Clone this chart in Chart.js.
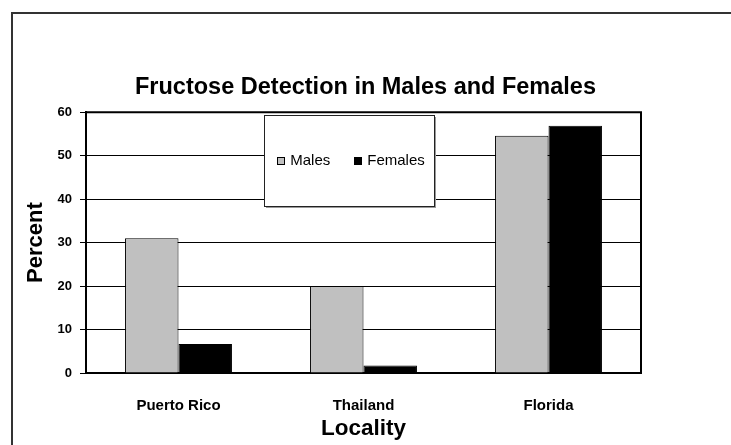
<!DOCTYPE html>
<html>
<head>
<meta charset="utf-8">
<script src="https://cdn.jsdelivr.net/npm/chart.js@4"></script>
<style>
  html, body { margin: 0; padding: 0; background: #fff; }
  #wrap { position: relative; width: 731px; height: 445px; }
</style>
</head>
<body>
<div id="wrap"><canvas id="chart"></canvas></div>
<script>
const categories = ["Puerto Rico", "Thailand", "Florida"];
const males = [31, 20, 54.6];
const females = [6.7, 1.7, 56.9];
const yTicks = [0, 10, 20, 30, 40, 50, 60];

const FONT = "'Liberation Sans', Arial, sans-serif";

// frame around the whole picture, border round the plot, and the boxed legend
const decorations = {
  id: "decorations",
  beforeDraw(chart) {
    const ctx = chart.ctx;
    ctx.save();
    ctx.fillStyle = "#fff";
    ctx.fillRect(0, 0, chart.width, chart.height);
    ctx.strokeStyle = "#333";
    ctx.lineWidth = 2;
    ctx.beginPath();
    ctx.moveTo(12, chart.height);
    ctx.lineTo(12, 13);
    ctx.lineTo(chart.width, 13);
    ctx.stroke();
    ctx.restore();
  },
  afterDatasetsDraw(chart) {
    const ctx = chart.ctx;
    const a = chart.chartArea;
    ctx.save();
    ctx.strokeStyle = "#000";
    ctx.lineWidth = 2;
    ctx.beginPath();
    ctx.moveTo(a.left, a.top);
    ctx.lineTo(a.right, a.top);
    ctx.lineTo(a.right, a.bottom);
    ctx.stroke();

    // legend box
    const bx = 264, by = 115, bw = 170, bh = 91;
    ctx.fillStyle = "#999";
    ctx.fillRect(bx + 2, by + 2, bw, bh);
    ctx.fillStyle = "#fff";
    ctx.fillRect(bx, by, bw, bh);
    ctx.lineWidth = 1;
    ctx.strokeStyle = "#222";
    ctx.strokeRect(bx + 0.5, by + 0.5, bw, bh);

    ctx.font = "15px " + FONT;
    ctx.textBaseline = "middle";
    const sq = 8, gap = 5, spacing = 24;
    const items = chart.data.datasets.map(ds => ({
      label: ds.label, fill: ds.backgroundColor, w: ctx.measureText(ds.label).width
    }));
    let total = 0;
    items.forEach((it, i) => { total += sq + gap + it.w + (i ? spacing : 0); });
    let x = bx + (bw - total) / 2 + 2;
    const cy = by + bh / 2 + 0.5;
    items.forEach(it => {
      ctx.fillStyle = it.fill;
      ctx.fillRect(Math.round(x), Math.round(cy - sq / 2), sq, sq);
      ctx.strokeStyle = "#000";
      ctx.strokeRect(Math.round(x) + 0.5, Math.round(cy - sq / 2) + 0.5, sq - 1, sq - 1);
      ctx.fillStyle = "#000";
      ctx.fillText(it.label, x + sq + gap, cy);
      x += sq + gap + it.w + spacing;
    });
    ctx.restore();
  }
};

new Chart(document.getElementById("chart"), {
  type: "bar",
  data: {
    labels: categories,
    datasets: [
      {
        label: "Males",
        data: males,
        backgroundColor: "#c0c0c0",
        borderColor: "#000",
        borderWidth: 1,
        categoryPercentage: 0.578,
        barPercentage: 1
      },
      {
        label: "Females",
        data: females,
        backgroundColor: "#000",
        borderColor: "#000",
        borderWidth: 1,
        categoryPercentage: 0.578,
        barPercentage: 1
      }
    ]
  },
  options: {
    responsive: true,
    maintainAspectRatio: false,
    animation: false,
    devicePixelRatio: 1,
    layout: { padding: 0 },
    plugins: {
      legend: { display: false },
      tooltip: { enabled: false },
      title: {
        display: true,
        text: "Fructose Detection in Males and Females",
        color: "#000",
        font: { family: FONT, size: 23.5, weight: "bold" },
        padding: { top: 73, bottom: 11 }
      }
    },
    scales: {
      x: {
        afterFit: (scale) => { scale.height = 72; },
        grid: { display: false },
        border: { display: true, color: "#000", width: 2 },
        ticks: {
          color: "#000",
          padding: 16,
          font: { family: FONT, size: 15, weight: "bold" }
        },
        title: {
          display: true,
          text: "Locality",
          color: "#000",
          font: { family: FONT, size: 22.5, weight: "bold" },
          padding: { top: 0, bottom: 3 }
        }
      },
      y: {
        min: yTicks[0],
        max: yTicks[yTicks.length - 1],
        afterFit: (scale) => { scale.width = 86; },
        afterBuildTicks: (scale) => { scale.ticks = yTicks.map(v => ({ value: v })); },
        grid: { color: "#000", lineWidth: 1, tickLength: 6 },
        border: { display: true, color: "#000", width: 2 },
        ticks: {
          color: "#000",
          padding: 8,
          font: { family: FONT, size: 13, weight: "bold" }
        },
        title: {
          display: true,
          text: "Percent",
          color: "#000",
          font: { family: FONT, size: 22, weight: "bold" },
          padding: { top: 22.5, bottom: 0 }
        }
      },
      // empty right-hand strip so the plot ends where the reference's does
      yRight: {
        position: "right",
        min: 0,
        max: 60,
        afterFit: (scale) => { scale.width = 90; },
        grid: { display: false },
        border: { display: false },
        ticks: { display: false }
      }
    }
  },
  plugins: [decorations]
});
</script>
</body>
</html>
